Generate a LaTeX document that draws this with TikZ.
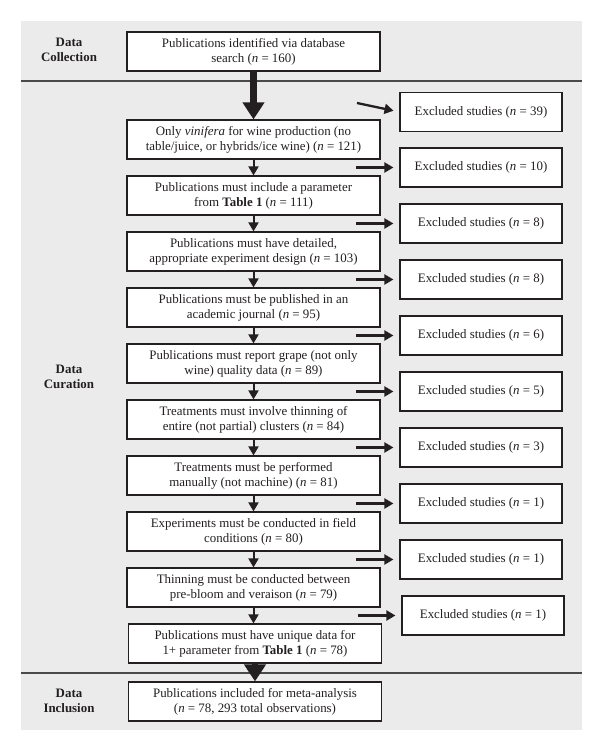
\documentclass[tikz,border=0pt]{standalone}
\usepackage{fontspec}
\setmainfont{Liberation Serif}
\usetikzlibrary{arrows.meta}
\definecolor{panelgray}{HTML}{EBEBEB}
\definecolor{ink}{HTML}{231F20}
\definecolor{sepline}{HTML}{4A4A4A}
\tikzset{
  mainbox/.style={draw=ink, line width=1.2pt, fill=white, minimum width=253pt, minimum height=39pt, inner sep=1pt, align=center, font=\fontsize{12.9}{15}\selectfont, text=ink},
  exbox/.style={draw=ink, line width=1.2pt, fill=white, minimum width=162pt, minimum height=39pt, inner sep=1pt, align=center, font=\fontsize{12.9}{15}\selectfont, text=ink},
  phase/.style={align=center, font=\fontsize{12.9}{15.5}\selectfont\bfseries, text=ink},
  thinarr/.style={draw=ink, line width=2pt, -{Triangle[length=9pt,width=10pt]}},
  exarr/.style={draw=ink, line width=2.3pt, -{Triangle[length=9pt,width=10pt]}, shorten >=6pt},
  thickarr/.style={draw=ink, line width=6.5pt, -{Triangle[length=17pt,width=21pt]}},
  sep/.style={draw=sepline, line width=1.3pt}
}
\begin{document}
\begin{tikzpicture}[x=1pt,y=-1pt]
\useasboundingbox (0,0) rectangle (600,751);
\fill[panelgray] (21,21) rectangle (582,730);
\draw[sep] (21,81) -- (582,81);
\draw[sep] (21,673) -- (582,673);
% phase labels
\node[phase] (lc) at (69,50) {Data\\Collection};
\node[phase] (lu) at (69,377) {Data\\Curation};
\node[phase] (li) at (69,701) {Data\\Inclusion};
% main boxes
\node[mainbox] (b1) at (253.5,51.5) {Publications identified via database\\search (\textit{n} = 160)};
\node[mainbox] (b2) at (253.5,139.5) {Only \textit{vinifera} for wine production (no\\table/juice, or hybrids/ice wine) (\textit{n} = 121)};
\node[mainbox] (b3) at (253.5,195.5) {Publications must include a parameter\\from \textbf{Table 1} (\textit{n} = 111)};
\node[mainbox] (b4) at (253.5,251.5) {Publications must have detailed,\\appropriate experiment design (\textit{n} = 103)};
\node[mainbox] (b5) at (253.5,307.5) {Publications must be published in an\\academic journal (\textit{n} = 95)};
\node[mainbox] (b6) at (253.5,363.5) {Publications must report grape (not only\\wine) quality data (\textit{n} = 89)};
\node[mainbox] (b7) at (253.5,419.5) {Treatments must involve thinning of\\entire (not partial) clusters (\textit{n} = 84)};
\node[mainbox] (b8) at (253.5,475.5) {Treatments must be performed\\manually (not machine) (\textit{n} = 81)};
\node[mainbox] (b9) at (253.5,531.5) {Experiments must be conducted in field\\conditions (\textit{n} = 80)};
\node[mainbox] (b10) at (253.5,587.5) {Thinning must be conducted between\\pre-bloom and veraison (\textit{n} = 79)};
\node[mainbox] (b11) at (255,643.5) {Publications must have unique data for\\1+ parameter from \textbf{Table 1} (\textit{n} = 78)};
\node[mainbox] (b12) at (255,701.5) {Publications included for meta-analysis\\(\textit{n} = 78, 293 total observations)};
% excluded boxes
\node[exbox] (e1) at (481,112) {Excluded studies (\textit{n} = 39)};
\node[exbox] (e2) at (481,167.5) {Excluded studies (\textit{n} = 10)};
\node[exbox] (e3) at (481,223.5) {Excluded studies (\textit{n} = 8)};
\node[exbox] (e4) at (481,279.5) {Excluded studies (\textit{n} = 8)};
\node[exbox] (e5) at (481,335.5) {Excluded studies (\textit{n} = 6)};
\node[exbox] (e6) at (481,391.5) {Excluded studies (\textit{n} = 5)};
\node[exbox] (e7) at (481,447.5) {Excluded studies (\textit{n} = 3)};
\node[exbox] (e8) at (481,503.5) {Excluded studies (\textit{n} = 1)};
\node[exbox] (e9) at (481,559.5) {Excluded studies (\textit{n} = 1)};
\node[exbox] (e10) at (483,615.5) {Excluded studies (\textit{n} = 1)};
% arrows between main boxes
\draw[thickarr] (b1.south) -- (b2.north);
\draw[thinarr] (b2.south) -- (b3.north);
\draw[thinarr] (b3.south) -- (b4.north);
\draw[thinarr] (b4.south) -- (b5.north);
\draw[thinarr] (b5.south) -- (b6.north);
\draw[thinarr] (b6.south) -- (b7.north);
\draw[thinarr] (b7.south) -- (b8.north);
\draw[thinarr] (b8.south) -- (b9.north);
\draw[thinarr] (b9.south) -- (b10.north);
\draw[thinarr] (b10.south) -- (b10.south |- b11.north);
\draw[thickarr] (b11.south) -- (b12.north);
% exclusion arrows
\coordinate (s1) at (357,103);
\coordinate (s2) at (356,167.5);
\coordinate (s3) at (356,223.5);
\coordinate (s4) at (356,279.5);
\coordinate (s5) at (356,335.5);
\coordinate (s6) at (356,391.5);
\coordinate (s7) at (356,447.5);
\coordinate (s8) at (356,503.5);
\coordinate (s9) at (356,559.5);
\coordinate (s10) at (358,615.5);
\draw[exarr] (s1) -- (e1.west);
\draw[exarr] (s2) -- (e2.west);
\draw[exarr] (s3) -- (e3.west);
\draw[exarr] (s4) -- (e4.west);
\draw[exarr] (s5) -- (e5.west);
\draw[exarr] (s6) -- (e6.west);
\draw[exarr] (s7) -- (e7.west);
\draw[exarr] (s8) -- (e8.west);
\draw[exarr] (s9) -- (e9.west);
\draw[exarr] (s10) -- (e10.west);
\end{tikzpicture}
\end{document}
